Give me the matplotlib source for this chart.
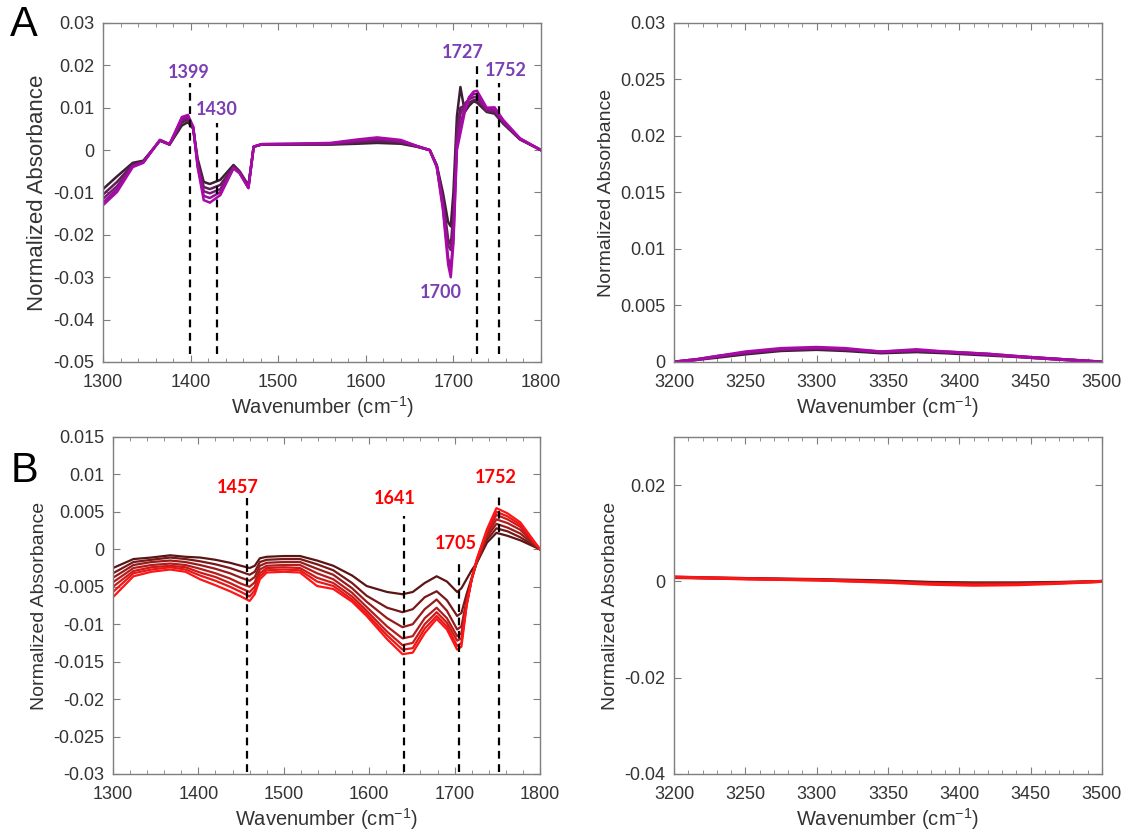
import numpy as np
import matplotlib
matplotlib.use('Agg')
import matplotlib.pyplot as plt
from matplotlib.ticker import MultipleLocator, FuncFormatter

plt.rcParams['font.family'] = ['Liberation Sans', 'DejaVu Sans']
plt.rcParams['mathtext.default'] = 'regular'

# --- panel A, fingerprint region (5 spectra, dark -> magenta)
wn_a = [1300, 1316, 1334, 1346, 1365, 1376, 1390, 1397, 1403, 1408, 1415, 1422, 1434, 1449,
        1456, 1466, 1472, 1481, 1520, 1560, 1590, 1613, 1640, 1658, 1673, 1681, 1688, 1694,
        1697, 1700, 1704, 1708, 1713, 1718, 1723, 1727, 1738, 1747, 1757, 1776, 1800]
a1 = [-0.0092, -0.0062, -0.0030, -0.0025, 0.0022, 0.0013, 0.0058, 0.0066, 0.0050, -0.0020,
      -0.0075, -0.0080, -0.0070, -0.0035, -0.0050, -0.0083, 0.0008, 0.0013, 0.0013, 0.0013,
      0.0015, 0.0017, 0.0015, 0.0008, 0.0000, -0.0035, -0.0100, -0.0170, -0.0180, -0.0100,
      0.0080, 0.0149, 0.0090, 0.0105, 0.0115, 0.0112, 0.0090, 0.0086, 0.0062, 0.0025, 0.0000]
a2 = [-0.0105, -0.0075, -0.0034, -0.0027, 0.0023, 0.0013, 0.0065, 0.0072, 0.0052, -0.0028,
      -0.0087, -0.0092, -0.0082, -0.0039, -0.0052, -0.0086, 0.0008, 0.0013, 0.0014, 0.0014,
      0.0018, 0.0021, 0.0018, 0.0009, 0.0000, -0.0037, -0.0115, -0.0210, -0.0224, -0.0150,
      0.0050, 0.0100, 0.0105, 0.0112, 0.0118, 0.0118, 0.0092, 0.0089, 0.0064, 0.0026, 0.0000]
a3 = [-0.0115, -0.0085, -0.0036, -0.0028, 0.0023, 0.0014, 0.0070, 0.0076, 0.0053, -0.0032,
      -0.0097, -0.0102, -0.0092, -0.0041, -0.0053, -0.0088, 0.0008, 0.0014, 0.0014, 0.0015,
      0.0021, 0.0025, 0.0020, 0.0009, 0.0000, -0.0038, -0.0125, -0.0225, -0.0236, -0.0180,
      0.0030, 0.0085, 0.0110, 0.0120, 0.0125, 0.0124, 0.0094, 0.0092, 0.0066, 0.0026, 0.0000]
a4 = [-0.0124, -0.0092, -0.0038, -0.0029, 0.0024, 0.0014, 0.0074, 0.0080, 0.0054, -0.0036,
      -0.0108, -0.0113, -0.0099, -0.0042, -0.0054, -0.0089, 0.0008, 0.0014, 0.0015, 0.0016,
      0.0023, 0.0028, 0.0022, 0.0010, 0.0000, -0.0039, -0.0133, -0.0255, -0.0276, -0.0210,
      0.0015, 0.0060, 0.0100, 0.0125, 0.0132, 0.0132, 0.0097, 0.0096, 0.0068, 0.0027, 0.0000]
a5 = [-0.0130, -0.0099, -0.0040, -0.0030, 0.0024, 0.0014, 0.0078, 0.0083, 0.0055, -0.0040,
      -0.0118, -0.0124, -0.0106, -0.0043, -0.0055, -0.0090, 0.0008, 0.0014, 0.0015, 0.0017,
      0.0025, 0.0030, 0.0024, 0.0010, 0.0000, -0.0040, -0.0140, -0.0270, -0.0300, -0.0220,
      0.0000, 0.0040, 0.0090, 0.0125, 0.0138, 0.0140, 0.0100, 0.0101, 0.0071, 0.0028, 0.0000]
colors_a = ['#3d1f35', '#5e1f55', '#7a1a75', '#931295', '#a80aa8']

# --- panel A, OH region
wn_a_oh = [3200, 3215, 3230, 3250, 3275, 3300, 3320, 3345, 3370, 3390, 3420, 3450, 3475, 3500]
a_oh_dark = [0, 0.0002, 0.0004, 0.0007, 0.0010, 0.0011, 0.0010, 0.0008, 0.0009, 0.0008, 0.0006, 0.0004, 0.0002, 0]
a_oh_mid = [0, 0.0002, 0.0005, 0.0008, 0.0011, 0.0012, 0.0011, 0.0009, 0.0010, 0.0009, 0.0007, 0.0004, 0.0002, 0]
a_oh_mag = [0, 0.0002, 0.0005, 0.0009, 0.0012, 0.0013, 0.0012, 0.0009, 0.0011, 0.0009, 0.0007, 0.0004, 0.0002, 0]
colors_a_oh = ['#3d1f35', '#7a1a75', '#a80aa8']

# --- panel B, fingerprint region (7 spectra, maroon -> red)
wn_b = [1300, 1324, 1345, 1367, 1385, 1402, 1420, 1437, 1450, 1460, 1466, 1472, 1480, 1500,
        1519, 1539, 1558, 1580, 1597, 1621, 1639, 1651, 1665, 1679, 1691, 1703, 1708, 1714,
        1720, 1726, 1738, 1749, 1762, 1777, 1800]
b1 = [-0.0025, -0.0013, -0.0011, -0.0008, -0.0010, -0.0011, -0.0014, -0.0018, -0.0022, -0.0025,
      -0.0022, -0.0012, -0.0010, -0.0009, -0.0009, -0.0015, -0.0022, -0.0035, -0.0049, -0.0057,
      -0.0060, -0.0057, -0.0045, -0.0036, -0.0043, -0.0057, -0.0052, -0.0040, -0.0028, -0.0018,
      0.0009, 0.0022, 0.0018, 0.0012, 0.0000]
b2 = [-0.0032, -0.0017, -0.0014, -0.0011, -0.0013, -0.0016, -0.0020, -0.0025, -0.0030, -0.0034,
      -0.0030, -0.0017, -0.0014, -0.0013, -0.0013, -0.0020, -0.0028, -0.0045, -0.0062, -0.0078,
      -0.0084, -0.0080, -0.0064, -0.0056, -0.0068, -0.0089, -0.0085, -0.0060, -0.0038, -0.0018,
      0.0013, 0.0028, 0.0024, 0.0016, 0.0000]
b3 = [-0.0038, -0.0021, -0.0017, -0.0015, -0.0017, -0.0021, -0.0026, -0.0032, -0.0038, -0.0042,
      -0.0037, -0.0022, -0.0018, -0.0017, -0.0017, -0.0026, -0.0034, -0.0052, -0.0070, -0.0092,
      -0.0104, -0.0100, -0.0080, -0.0067, -0.0082, -0.0107, -0.0103, -0.0068, -0.0040, -0.0017,
      0.0017, 0.0034, 0.0029, 0.0021, 0.0000]
b4 = [-0.0044, -0.0025, -0.0021, -0.0019, -0.0021, -0.0026, -0.0032, -0.0039, -0.0046, -0.0050,
      -0.0044, -0.0027, -0.0022, -0.0021, -0.0021, -0.0032, -0.0040, -0.0058, -0.0077, -0.0103,
      -0.0119, -0.0116, -0.0092, -0.0078, -0.0092, -0.0116, -0.0112, -0.0072, -0.0040, -0.0016,
      0.0020, 0.0040, 0.0035, 0.0026, 0.0000]
b5 = [-0.0050, -0.0029, -0.0024, -0.0022, -0.0024, -0.0031, -0.0037, -0.0045, -0.0052, -0.0057,
      -0.0050, -0.0032, -0.0025, -0.0024, -0.0025, -0.0038, -0.0045, -0.0063, -0.0082, -0.0110,
      -0.0128, -0.0125, -0.0100, -0.0084, -0.0098, -0.0122, -0.0119, -0.0074, -0.0040, -0.0015,
      0.0023, 0.0046, 0.0040, 0.0030, 0.0000]
b6 = [-0.0057, -0.0032, -0.0027, -0.0024, -0.0027, -0.0035, -0.0042, -0.0050, -0.0057, -0.0063,
      -0.0055, -0.0036, -0.0028, -0.0027, -0.0028, -0.0043, -0.0049, -0.0067, -0.0086, -0.0115,
      -0.0134, -0.0132, -0.0106, -0.0089, -0.0103, -0.0129, -0.0125, -0.0075, -0.0040, -0.0014,
      0.0025, 0.0050, 0.0044, 0.0033, 0.0000]
b7 = [-0.0064, -0.0036, -0.0030, -0.0027, -0.0030, -0.0040, -0.0048, -0.0056, -0.0063, -0.0069,
      -0.0060, -0.0040, -0.0031, -0.0030, -0.0031, -0.0049, -0.0053, -0.0070, -0.0089, -0.0120,
      -0.0140, -0.0138, -0.0112, -0.0093, -0.0107, -0.0134, -0.0130, -0.0076, -0.0040, -0.0013,
      0.0027, 0.0055, 0.0048, 0.0036, 0.0000]
colors_b = ['#5a1515', '#781818', '#961c1c', '#b31c1c', '#cc1a1a', '#e61818', '#ff1515']

# --- panel B, OH region
wn_b_oh = [3200, 3250, 3300, 3350, 3380, 3410, 3440, 3470, 3500]
b_oh_dark = [0.0008, 0.0006, 0.0004, 0.0001, -0.0002, -0.0003, -0.0003, -0.0002, 0.0000]
b_oh_mid = [0.0009, 0.0006, 0.0003, -0.0001, -0.0004, -0.0005, -0.0005, -0.0003, 0.0000]
b_oh_red = [0.0009, 0.0005, 0.0003, -0.0002, -0.0006, -0.0008, -0.0007, -0.0004, 0.0000]
colors_b_oh = ['#5a1515', '#b31c1c', '#ff1515']

# peak markers: (wavenumber, line top, label x, label y)
peaks_a = [(1399, 0.0158, 1398, 0.0184), (1430, 0.0064, 1430, 0.0097),
           (1727, 0.0208, 1711, 0.0231), (1752, 0.0158, 1760, 0.0189)]
peak_a_low = (1700, 1686, -0.0337)
peaks_b = [(1457, 0.0068, 1446, 0.0083), (1641, 0.0044, 1630, 0.0068),
           (1705, -0.0013, 1702, 0.0008), (1752, 0.0076, 1748, 0.0096)]

SPINE = '#7f7f7f'
TEXT = '#333333'
fmt = FuncFormatter(lambda v, p: '%g' % (round(v, 6) + 0.0))


def style_axes(ax, xlim, ylim, ymajor, xminor, ylabel_size=14):
    ax.set_xlim(xlim)
    ax.set_ylim(ylim)
    ax.yaxis.set_major_locator(MultipleLocator(ymajor))
    ax.xaxis.set_minor_locator(MultipleLocator(xminor))
    ax.yaxis.set_major_formatter(fmt)
    ax.tick_params(which='both', direction='in', top=True, right=True,
                   color=SPINE, labelcolor=TEXT, labelsize=13)
    ax.tick_params(which='major', length=5)
    ax.tick_params(which='minor', length=3)
    ax.tick_params(axis='x', which='both', pad=9)
    ax.tick_params(axis='y', which='both', pad=6)
    for s in ax.spines.values():
        s.set_color(SPINE)
        s.set_linewidth(1.0)
    ax.set_xlabel(r'Wavenumber (cm$^{-1}$)', fontsize=14.5, color=TEXT, labelpad=2)
    ax.set_ylabel('Normalized Absorbance', fontsize=ylabel_size, color=TEXT, labelpad=4)


fig = plt.figure(figsize=(11.33, 8.36), dpi=100)
ax1 = fig.add_axes([0.0909, 0.567, 0.3866, 0.4055])
ax2 = fig.add_axes([0.5949, 0.567, 0.3777, 0.4055])
ax3 = fig.add_axes([0.0997, 0.0742, 0.3769, 0.4031])
ax4 = fig.add_axes([0.5949, 0.0742, 0.3777, 0.4031])

for y, c in zip([a1, a2, a3, a4, a5], colors_a):
    ax1.plot(wn_a, y, color=c, lw=1.8, solid_joinstyle='round')
for y, c in zip([a_oh_dark, a_oh_mid, a_oh_mag], colors_a_oh):
    ax2.plot(wn_a_oh, y, color=c, lw=2.2)
for y, c in zip([b1, b2, b3, b4, b5, b6, b7], colors_b):
    ax3.plot(wn_b, y, color=c, lw=1.6, solid_joinstyle='round')
for y, c in zip([b_oh_dark, b_oh_mid, b_oh_red], colors_b_oh):
    ax4.plot(wn_b_oh, y, color=c, lw=2.2)

lab_a = dict(color='#7b3fb5', fontsize=13, fontweight='bold', family=['Lato', 'DejaVu Sans'],
             ha='center', va='center')
for wn, top, lx, ly in peaks_a:
    ax1.plot([wn, wn], [-0.048, top], ls=(0, (3.5, 2.5)), color='k', lw=1.6)
    ax1.text(lx, ly, str(wn), **lab_a)
ax1.text(peak_a_low[1], peak_a_low[2], str(peak_a_low[0]), **lab_a)

lab_b = dict(lab_a, color='#ff0000')
for wn, top, lx, ly in peaks_b:
    ax3.plot([wn, wn], [-0.0298, top], ls=(0, (3.5, 2.5)), color='k', lw=1.6)
    ax3.text(lx, ly, str(wn), **lab_b)

style_axes(ax1, (1300, 1800), (-0.05, 0.03), 0.01, 20, ylabel_size=16)
style_axes(ax2, (3200, 3500), (0, 0.03), 0.005, 10)
style_axes(ax3, (1300, 1800), (-0.03, 0.015), 0.005, 20)
style_axes(ax4, (3200, 3500), (-0.04, 0.03), 0.02, 10)

fig.text(0.021, 0.970, 'A', fontsize=30, ha='center', va='center')
fig.text(0.022, 0.437, 'B', fontsize=30, ha='center', va='center')

fig.savefig('out.png', dpi=100)
